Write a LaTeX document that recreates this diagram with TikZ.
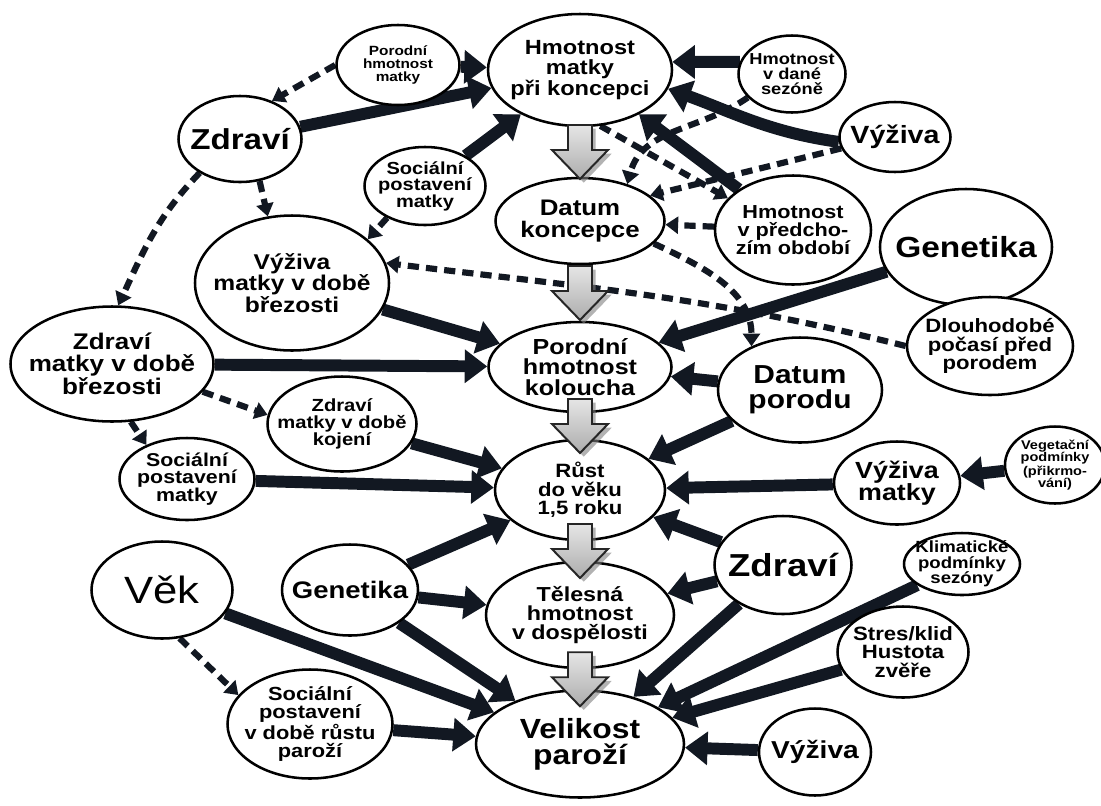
\documentclass[tikz,border=0pt]{standalone}
\usepackage{fontspec}
\setmainfont{Liberation Sans}[FakeStretch=1.15]
\usetikzlibrary{arrows.meta, shapes.geometric, calc, backgrounds, shadows}
\definecolor{ink}{HTML}{121822}
\renewcommand{\baselinestretch}{0.95}
\tikzset{
    >={Triangle[length=16pt, width=23pt]},
    bub/.style n args={3}{ellipse, draw, fill=white, line width=1.8pt,
        align=center, inner sep=-40pt,
        minimum width=#1*0.025cm, minimum height=#2*0.025cm,
        font=\bfseries\fontsize{#3}{#3}\selectfont},
    cause/.style={->, draw=ink, line width=8.5pt},
    weak/.style={->, >={Triangle[length=9pt, width=12pt]}, draw=ink,
        line width=4.4pt, dash pattern=on 8pt off 5pt},
    blockarr/.style={draw=black!85, line width=1.4pt, top color=gray!20,
        bottom color=gray!65, drop shadow={opacity=0.6}}
}

\begin{document}
\begin{tikzpicture}[x=0.025cm, y=0.025cm]
    \useasboundingbox (0,0) rectangle (1101,-805);
    % middle column
    \node[bub={184}{112}{14.6}] (hmk) at (580,-70) {Hmotnost\\matky\\při koncepci};
    \node[bub={169}{86}{16}] (dk) at (580,-221) {Datum\\koncepce};
    \node[bub={183}{90}{15.5}] (phk) at (580,-367) {Porodní\\hmotnost\\koloucha};
    \node[bub={170}{100}{13.7}] (rust) at (580,-490) {Růst\\do věku\\1,5 roku};
    \node[bub={188}{106}{14.4}] (teh) at (580,-615) {Tělesná\\hmotnost\\v dospělosti};
    \node[bub={208}{107}{19.7}] (vel) at (580,-744) {Velikost\\paroží};
    % left side
    \node[bub={123}{80}{9.5}] (pmatky) at (398,-65) {Porodní\\hmotnost\\matky};
    \node[bub={123}{86}{20.5}] (zdr1) at (240,-139) {Zdraví};
    \node[bub={121}{78}{12.4}] (soc1) at (425,-186) {Sociální\\postavení\\matky};
    \node[bub={194}{135}{15.2}] (vmb) at (292,-283) {Výživa\\matky v době\\březosti};
    \node[bub={203}{115}{16.1}] (zmb) at (112,-364) {Zdraví\\matky v době\\březosti};
    \node[bub={149}{95}{12.5}] (zmk) at (342,-424) {Zdraví\\matky v době\\kojení};
    \node[bub={135}{82}{13.2}] (soc2) at (187,-479) {Sociální\\postavení\\matky};
    \node[bub={141}{97}{27}, font=\fontsize{27}{27}\selectfont] (vek) at (162,-590) {Věk};
    \node[bub={136}{91}{17}] (gen2) at (350,-590) {Genetika};
    \node[bub={165}{109}{13.5}] (soc3) at (310,-724) {Sociální\\postavení\\v době růstu\\paroží};
    % right side
    \node[bub={107}{77}{11.3}] (hsez) at (792,-74) {Hmotnost\\v dané\\sezóně};
    \node[bub={111}{70}{17.7}] (vyz1) at (895,-137) {Výživa};
    \node[bub={156}{109}{13.4}] (hpred) at (793,-230) {Hmotnost\\v předcho-\\zím období};
    \node[bub={172}{116}{20.7}] (gen1) at (966,-247) {Genetika};
    \node[bub={166}{98}{13.7}] (dlouh) at (990,-346) {Dlouhodobé\\počasí před\\porodem};
    \node[bub={164}{105}{18.5}] (dp) at (800,-390) {Datum\\porodu};
    \node[bub={126}{83}{16.6}] (vm) at (897,-483) {Výživa\\matky};
    \node[bub={100}{77}{9}] (veg) at (1055,-465) {Vegetační\\podmínky\\(přikrmo-\\vání)};
    \node[bub={137}{98}{22.6}] (zdr2) at (783,-565) {Zdraví};
    \node[bub={116}{62}{11.5}] (klim) at (962,-564) {Klimatické\\podmínky\\sezóny};
    \node[bub={131}{91}{13.7}] (stres) at (903,-652) {Stres/klid\\Hustota\\zvěře};
    \node[bub={112}{87}{17.4}] (vyz3) at (815,-752) {Výživa};
    \begin{scope}[on background layer]
        % solid arrows
        \foreach \a/\b in {pmatky/hmk, zdr1/hmk, soc1/hmk, hsez.167/hmk.5, hpred/hmk,
            gen1/phk, dp/phk, vmb/phk, zmb/phk, zmk/rust, soc2/rust, dp/rust,
            vm/rust, veg/vm, zdr2/rust, zdr2/teh, zdr2/vel, gen2/rust, gen2/teh,
            gen2/vel, vek/vel, soc3/vel, klim/vel, stres/vel, vyz3/vel} {
            \draw[cause] (\a) -- (\b);
        }
        \draw[cause] (vyz1.185) to[out=172, in=-20] (hmk.-12);
        % dashed arrows
        \foreach \a/\b in {pmatky.west/zdr1.50, zdr1.-65/vmb.110, soc1.220/vmb.30,
            hmk.-70/hpred.154, hpred/dk, vyz1.192/dk.20, zmb.-17/zmk.173,
            zmb.-72/soc2.140, vek.-70/soc3.158} {
            \draw[weak] (\a) -- (\b);
        }
        \draw[weak] (zdr1.220) to[out=226, in=65] (zmb.84);
        \draw[weak] (hsez.208) to[out=215, in=75] (dk.38);
        \draw[weak] (dk.-17) to[out=-25, in=90] (dp.138);
        \draw[weak] (dlouh.west) to[out=166, in=-7] (vmb.12);
    \end{scope}
    % grey arrows down the middle
    \foreach \a/\b in {hmk/dk, dk/phk, phk/rust, rust/teh, teh/vel} {
        \coordinate (m) at ($(\a.south)!0.5!(\b.north)$);
        \filldraw[blockarr] ($(m)+(-12,27)$) -- ($(m)+(12,27)$) -- ($(m)+(12,2)$)
            -- ($(m)+(28,2)$) -- ($(m)+(0,-27)$) -- ($(m)+(-28,2)$)
            -- ($(m)+(-12,2)$) -- cycle;
    }
\end{tikzpicture}
\end{document}
